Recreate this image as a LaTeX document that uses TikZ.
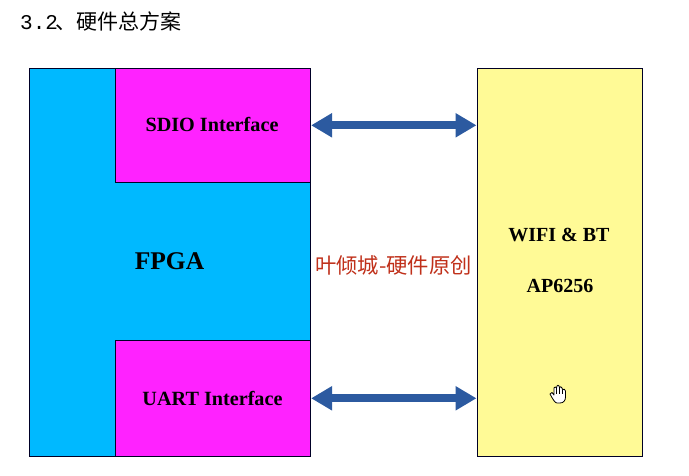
\documentclass[tikz,border=0pt]{standalone}
\usepackage{fontspec}
\setmainfont{Liberation Serif}
\newfontfamily\cjkfont{Noto Sans CJK SC}
\newfontfamily\numfont{Liberation Mono}
\usetikzlibrary{arrows.meta}
\definecolor{fpgablue}{HTML}{00B9FF}
\definecolor{ifmagenta}{HTML}{FF22FF}
\definecolor{wifiyellow}{HTML}{FFFA96}
\definecolor{arrowblue}{HTML}{2C5AA0}
\definecolor{markred}{HTML}{C0301A}
\tikzstyle{box}=[rectangle, draw=black!85!blue, line width=0.6pt, inner sep=0pt, anchor=north west]
\tikzstyle{annot}=[align=center, font=\bfseries, inner sep=0pt]
\tikzstyle{biarrow}=[draw=arrowblue, line width=8pt, {Triangle[length=21pt,width=23pt]}-{Triangle[length=21pt,width=23pt]}, shorten >=0.5pt, shorten <=0.5pt]
\tikzstyle{hand}=[draw=black, fill=white, line width=0.8pt, line join=round]
\begin{document}
\begin{tikzpicture}[x=1pt,y=-1pt]
	\useasboundingbox[fill=white] (0,0) rectangle (689,476);

	\node[inner sep=0pt, anchor=west] (title) at (20,21) {\fontsize{21}{21}\selectfont{\numfont 3.2}\hspace{-3pt}\cjkfont 、硬件总方案};

	\node[box, fill=fpgablue, minimum width=281pt, minimum height=388pt] (fpga) at (29,68) {};
	\node[box, fill=ifmagenta, minimum width=195pt, minimum height=114pt] (sdio) at (115,68) {};
	\node[box, fill=ifmagenta, minimum width=195pt, minimum height=116pt] (uart) at (115,340) {};
	\node[box, fill=wifiyellow, minimum width=165pt, minimum height=388pt] (wifi) at (477,68) {};

	\node[annot, font=\bfseries\fontsize{20.2}{20.2}\selectfont] (sdiotext) at (212,124) {SDIO Interface};
	\node[annot, font=\bfseries\fontsize{20.2}{20.2}\selectfont] (uarttext) at (212.5,398) {UART Interface};
	\node[annot, font=\bfseries\fontsize{25.5}{25.5}\selectfont] (fpgatext) at (169.5,261) {FPGA};
	\node[annot, font=\bfseries\fontsize{20}{20}\selectfont] (wifitext) at (559,235) {WIFI \& BT};
	\node[annot, font=\bfseries\fontsize{20}{20}\selectfont] (aptext) at (560,286) {AP6256};
	\node[inner sep=0pt, text=markred, font=\cjkfont\fontsize{21.3}{21.3}\selectfont] (mark) at (393.5,265) {叶倾城-硬件原创};

	\coordinate (sdioend) at (wifi.west |- sdio.east);
	\coordinate (uartend) at (wifi.west |- uart.east);
	\draw[biarrow] (sdio.east) -- (sdioend);
	\draw[biarrow] (uart.east) -- (uartend);

	% cursor
	\draw[hand] (550,394) -- (552,392.5) -- (554,395) -- (554,388) .. controls (554.5,386.5) and (556,386.5) .. (556.5,388) -- (557,386) .. controls (557.5,385) and (558.5,385) .. (559,386) -- (559.5,387.5) .. controls (560,386.5) and (561.5,386.5) .. (562,388) -- (562.5,389.5) .. controls (563.5,389) and (565.5,389) .. (565.5,391) -- (565.5,397) .. controls (565.5,400.5) and (563.5,403) .. (560,403) -- (557,403) .. controls (555,403) and (553,399.5) .. cycle;
	\draw[black, line width=0.7pt] (556.5,388) -- (556.5,394) (559.5,387.5) -- (559.5,394) (562.5,389.5) -- (562.5,394);
\end{tikzpicture}
\end{document}
